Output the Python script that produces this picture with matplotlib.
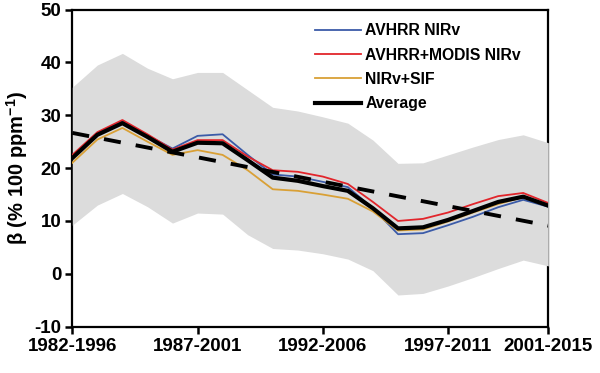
import numpy as np
import matplotlib.pyplot as plt

plt.rcParams['font.family'] = ['Liberation Sans', 'DejaVu Sans']
plt.rcParams['font.weight'] = 'bold'
plt.rcParams['axes.unicode_minus'] = False
plt.rcParams['mathtext.fontset'] = 'custom'
plt.rcParams['mathtext.rm'] = 'Liberation Sans:bold'
plt.rcParams['mathtext.bf'] = 'Liberation Sans:bold'

# 15-year moving windows
windows = ['1982-1996', '1983-1997', '1984-1998', '1985-1999', '1986-2000',
           '1987-2001', '1988-2002', '1989-2003', '1990-2004', '1991-2005',
           '1992-2006', '1993-2007', '1994-2008', '1995-2009', '1996-2010',
           '1997-2011', '1998-2012', '1999-2013', '2000-2014', '2001-2015']
tick_labels = ['1982-1996', '1987-2001', '1992-2006', '1997-2011', '2001-2015']

avhrr = [22.0, 26.5, 28.8, 26.2, 23.7, 26.1, 26.4, 22.5, 18.8, 18.4,
         17.4, 16.4, 12.4, 7.5, 7.7, 9.2, 10.8, 12.6, 14.0, 12.7]
avhrr_modis = [22.5, 26.8, 29.1, 26.4, 23.5, 25.3, 25.3, 22.2, 19.6, 19.3,
               18.4, 17.0, 13.6, 10.0, 10.4, 11.6, 13.2, 14.7, 15.3, 13.4]
nirv_sif = [21.0, 25.4, 27.6, 25.0, 22.5, 23.4, 22.5, 19.6, 16.0, 15.7,
            15.0, 14.2, 11.8, 8.2, 8.4, 9.9, 11.6, 13.2, 14.5, 12.8]
average = [21.9, 26.3, 28.5, 25.9, 23.1, 24.8, 24.7, 21.5, 18.2, 17.6,
           16.6, 15.7, 12.4, 8.6, 8.8, 10.2, 11.9, 13.6, 14.6, 12.9]
band_upper = [35.3, 39.5, 41.7, 38.9, 36.9, 38.1, 38.1, 34.8, 31.5, 30.8,
              29.7, 28.5, 25.3, 20.9, 21.0, 22.5, 24.0, 25.4, 26.3, 24.8]
band_lower = [9.2, 13.0, 15.2, 12.7, 9.6, 11.5, 11.3, 7.4, 4.8, 4.5,
              3.8, 2.8, 0.6, -4.0, -3.7, -2.3, -0.7, 1.0, 2.6, 1.5]

x = np.arange(len(windows))
slope, intercept = np.polyfit(x, average, 1)
trend = slope * x + intercept

fig = plt.figure(figsize=(6.0, 3.73), dpi=100)
ax = fig.add_axes([0.1205, 0.1241, 0.7933, 0.8504])

ax.fill_between(x, band_lower, band_upper, color='#dcdcdc', linewidth=0, zorder=3)
ax.plot(x, avhrr, color='#3b5ba8', lw=1.3, zorder=4, label='AVHRR NIRv')
ax.plot(x, avhrr_modis, color='#e2252b', lw=1.3, zorder=4, label='AVHRR+MODIS NIRv')
ax.plot(x, nirv_sif, color='#d9a036', lw=1.3, zorder=4, label='NIRv+SIF')
ax.plot(x, average, color='black', lw=3.0, zorder=5, label='Average')
ax.plot(x, trend, color='black', lw=2.8, dashes=(4.4, 3.9), zorder=6)

ax.set_xlim(0, len(windows) - 1)
ax.set_ylim(-10, 50)
ax.set_xticks([windows.index(t) for t in tick_labels])
ax.set_xticklabels(tick_labels)
ax.set_yticks(np.arange(-10, 51, 10))
ax.tick_params(labelsize=13.5, width=1.8, length=5, direction='out', pad=3)
for s in ax.spines.values():
    s.set_linewidth(1.6)
ax.set_ylabel(r'β (% 100 ppm$^{-1}$)', fontsize=14.5, fontweight='bold', labelpad=3)

ax.legend(loc='upper left', bbox_to_anchor=(0.51, 0.957), frameon=False,
          fontsize=11.3, handlelength=2.9, handletextpad=0.3, labelspacing=0.6,
          borderpad=0, borderaxespad=0)

fig.savefig('out.png', dpi=100)
